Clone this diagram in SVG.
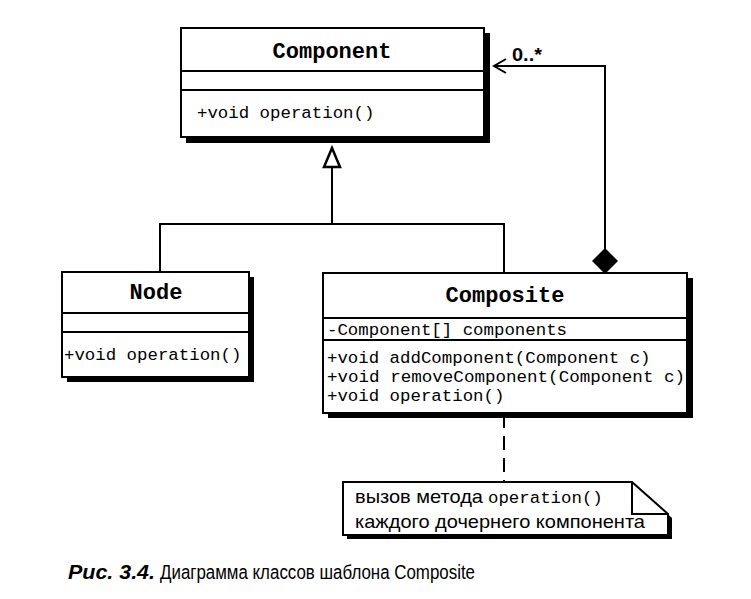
<svg xmlns="http://www.w3.org/2000/svg" width="751" height="599" viewBox="0 0 751 599">
<style>
.box{fill:#fff;stroke:#000;stroke-width:2}
.sh{fill:#000}
.ln{stroke:#000;stroke-width:2;fill:none}
.title{font-family:"Liberation Mono","Courier New",monospace;font-weight:bold;font-size:22px;fill:#000}
.mono{font-family:"Liberation Mono","Courier New",monospace;font-size:17.4px;fill:#000}
.sans{font-family:"Liberation Sans",Arial,sans-serif;fill:#000}
</style>
<rect width="751" height="599" fill="#fff"/>
<g id="connectors">
  <polyline class="ln" points="160,272 160,224 504,224 504,273"/>
  <line class="ln" x1="332" y1="224" x2="332" y2="166"/>
  <polygon points="332,148 340,167 324,167" fill="#fff" stroke="#000" stroke-width="2.5"/>
  <polyline class="ln" points="605,249 605,66 494,66"/>
  <polyline class="ln" stroke-width="2.5" points="506,59 494,66 506,73"/>
  <polygon points="605,248 618,261 605,274 592,261" fill="#000"/>
  <text class="sans" x="512" y="61" font-size="19" font-weight="bold" textLength="30" lengthAdjust="spacingAndGlyphs">0..*</text>
  <line class="ln" x1="504" y1="414" x2="504" y2="482" stroke-dasharray="14,8"/>
</g>
<g id="component">
  <rect class="sh" x="186" y="33" width="304" height="110"/>
  <rect class="box" x="181" y="28" width="303" height="109"/>
  <line class="ln" x1="181" y1="71" x2="484" y2="71"/>
  <line class="ln" x1="181" y1="90" x2="484" y2="90"/>
  <text class="title" x="332" y="58" text-anchor="middle">Component</text>
  <text class="mono" x="197" y="118">+void operation()</text>
</g>
<g id="node">
  <rect class="sh" x="67" y="277" width="187" height="105"/>
  <rect class="box" x="62" y="272" width="187" height="105"/>
  <line class="ln" x1="62" y1="313" x2="249" y2="313"/>
  <line class="ln" x1="62" y1="332" x2="249" y2="332"/>
  <text class="title" x="156" y="299" text-anchor="middle">Node</text>
  <text class="mono" x="64" y="360">+void operation()</text>
</g>
<g id="composite">
  <rect class="sh" x="328" y="278" width="365" height="140"/>
  <rect class="box" x="323" y="273" width="364" height="140"/>
  <line class="ln" x1="323" y1="318" x2="687" y2="318"/>
  <line class="ln" x1="323" y1="340" x2="687" y2="340"/>
  <text class="title" x="505" y="302" text-anchor="middle">Composite</text>
  <text class="mono" x="327" y="335">-Component[] components</text>
  <text class="mono" x="327" y="363">+void addComponent(Component c)</text>
  <text class="mono" x="327" y="382" textLength="358" lengthAdjust="spacingAndGlyphs">+void removeComponent(Component c)</text>
  <text class="mono" x="327" y="401">+void operation()</text>
</g>
<g id="note">
  <polygon class="sh" points="347,486 636,486 672,518 672,539 347,539"/>
  <polygon class="box" points="343,482 632,482 668,514 668,535 343,535"/>
  <polyline class="ln" points="632,482 632,514 668,514"/>
  <text class="sans" x="355" y="503" font-size="19" textLength="128" lengthAdjust="spacingAndGlyphs">вызов метода</text>
  <text class="mono" x="488" y="503" font-size="15.5">operation()</text>
  <text class="sans" x="355" y="528" font-size="19" textLength="290" lengthAdjust="spacingAndGlyphs">каждого дочернего компонента</text>
</g>
<g id="caption">
  <text class="sans" x="68" y="579" font-size="20" font-weight="bold" font-style="italic" textLength="87" lengthAdjust="spacingAndGlyphs">Рис. 3.4.</text>
  <text class="sans" x="160" y="579" font-size="20" textLength="315" lengthAdjust="spacingAndGlyphs">Диаграмма классов шаблона Composite</text>
</g>
</svg>
